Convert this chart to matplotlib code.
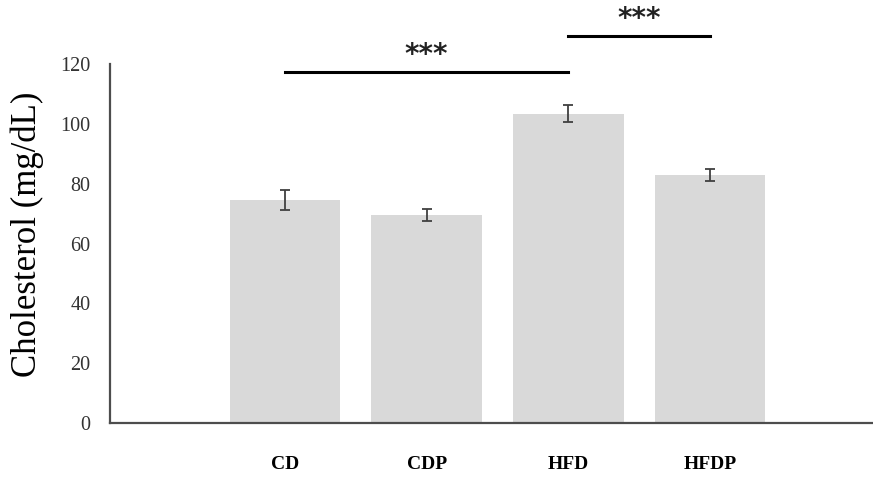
import numpy as np
import matplotlib.pyplot as plt

groups = ['CD', 'CDP', 'HFD', 'HFDP']
means = [74.5, 69.5, 103.5, 83.0]
errs = [3.3, 2.0, 3.0, 2.0]
ticks = [0, 20, 40, 60, 80, 100, 120]

plt.rcParams['font.family'] = ['Liberation Serif', 'DejaVu Serif']

fig = plt.figure(figsize=(8.73, 4.79), dpi=100)
ax = fig.add_axes([0.126, 0.117, 0.874, 0.749])

x = np.arange(len(groups))
ax.bar(x, means, width=0.78, color='#d9d9d9')
ax.errorbar(x, means, yerr=errs, fmt='none', ecolor='#404040',
            elinewidth=1.3, capsize=3.5, capthick=1.3)

ax.set_xlim(-1.235, 4.15)
ax.set_ylim(0, 120)
ax.set_yticks(ticks)
ax.set_xticks(x)
ax.set_xticklabels(groups, fontweight='bold', fontsize=14)
ax.tick_params(axis='x', length=0, pad=24)
ax.tick_params(axis='y', length=0, pad=14, labelsize=14.5, labelcolor='#333333')
for s in ['top', 'right']:
    ax.spines[s].set_visible(False)
for s in ['left', 'bottom']:
    ax.spines[s].set_color('#4d4d4d')
    ax.spines[s].set_linewidth(1.6)
ax.set_ylabel('Cholesterol (mg/dL)', fontsize=25)
ax.yaxis.set_label_coords(-0.086, 0.525)

# significance bars
star_font = dict(ha='center', va='bottom', fontsize=20, fontweight='bold',
                 family='DejaVu Sans', color='#222222')
ax.plot([0, 2], [117.3, 117.3], color='black', lw=2.2, clip_on=False)
ax.text(1, 118.5, '***', **star_font)
ax.plot([2, 3], [129.3, 129.3], color='black', lw=2.2, clip_on=False)
ax.text(2.5, 130.5, '***', **star_font)

fig.savefig('out.png', dpi=100)
